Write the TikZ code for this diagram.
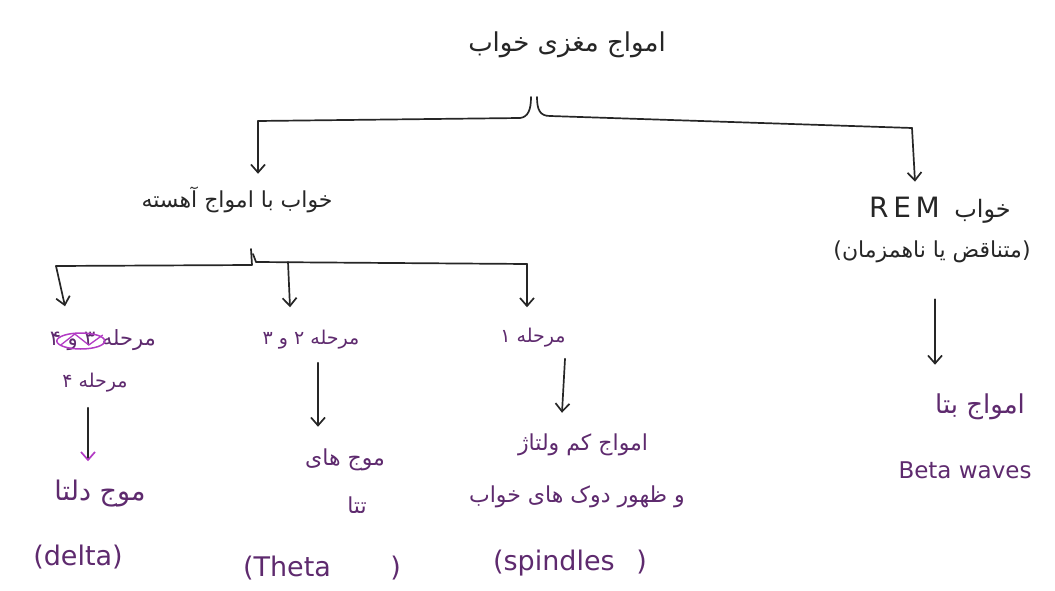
\documentclass[tikz,border=0pt]{standalone}
\usepackage{fontspec}
\setmainfont{DejaVu Sans}
\newfontfamily\fa[Script=Arabic]{DejaVu Sans}
\newfontfamily\la{DejaVu Sans}
\TeXXeTstate=1
\usetikzlibrary{arrows.meta,calc}
\definecolor{ink}{HTML}{262626}
\definecolor{purp}{HTML}{5E2A6E}
\definecolor{mag}{HTML}{B23BC4}
\begin{document}
\begin{tikzpicture}[x=1pt,y=-1pt,
  blk/.style={text=ink, inner sep=1pt},
  prp/.style={text=purp, inner sep=1pt},
  big/.style={font=\fa\fontsize{26}{30}\selectfont},
  mid/.style={font=\fa\fontsize{22}{26}\selectfont},
  sml/.style={font=\fa\fontsize{19}{23}\selectfont},
  lat/.style={font=\la\fontsize{27}{30}\selectfont},
  latb/.style={font=\la\fontsize{23}{26}\selectfont},
  bar/.style={draw=ink, line width=1.7pt, line cap=round, line join=round},
  arr/.style={bar, -{Straight Barb[length=8pt,width=14pt]}},
  parr/.style={bar, -{Straight Barb[length=8pt,width=14pt,color=mag]}},
]
\useasboundingbox (0,0) rectangle (1055,591);
% nodes
\node[blk,big] (top) at (567,45) {\beginR امواج مغزی خواب\endR};
\node[blk,mid] (slow) at (237,200) {\beginR خواب با امواج آهسته\endR};
\node[blk,font=\fa\fontsize{24}{28}\selectfont] (rem1) at (940,210) {\beginR خواب\hspace{0.6em}\beginL{\la\fontsize{28}{30}\selectfont R\,E\,M}\endL\endR};
\node[blk,mid] (rem2) at (932,252) {{\la(}\beginR متناقض یا ناهمزمان\endR{\la)}};
\node[prp,font=\fa\fontsize{21}{24}\selectfont] (s34) at (103,340) {\beginR مرحله ۳\hspace{0.3em}و\hspace{0.3em}۴\endR};
\node[prp,sml] (s4) at (95,383) {\beginR مرحله ۴\endR};
\node[prp,sml] (s23) at (311,340) {\beginR مرحله ۲ و ۳\endR};
\node[prp,sml] (s1) at (533,338) {\beginR مرحله ۱\endR};
\node[prp,font=\fa\fontsize{27}{30}\selectfont] (d1) at (100,494) {\beginR موج دلتا\endR};
\node[prp,lat] (d2) at (78,557) {(delta)};
\node[prp,mid] (t1) at (345,460) {\beginR موج های\endR};
\node[prp,mid] (t2) at (357,505) {\beginR تتا\endR};
\node[prp,lat] (t3) at (322,568) {(Theta\hspace{2.2em})};
\node[prp,mid] (p1) at (583,445) {\beginR امواج کم ولتاژ\endR};
\node[prp,mid] (p2) at (577,497) {\beginR و ظهور دوک های خواب\endR};
\node[prp,lat] (p3) at (570,563) {(spindles\hspace{0.8em})};
\node[prp,font=\fa\fontsize{26}{30}\selectfont] (b1) at (980,407) {\beginR امواج بتا\endR};
\node[prp,latb] (b2) at (965,470) {Beta waves};
% top bracket
\coordinate (tl) at (258,121);
\coordinate (tr) at (912,128);
\coordinate (tn) at (534,97);
\draw[bar] (tl) -- (520,118) .. controls (528,117) and (531,110) .. ($(tn)+(-3,0)$);
\draw[bar] ($(tn)+(3,0)$) .. controls (537,110) and (540,116) .. (550,116) -- (tr);
\draw[arr] (tl) -- ($(tl |- slow.north)+(0,-12)$);
\draw[arr] (tr) -- ($(tr |- rem1.north)+(3,-14)$);
% second bracket
\coordinate (sl) at (56,266);
\coordinate (sr) at (527,264);
\coordinate (sm) at (288,262);
\coordinate (sn) at (251,249);
\draw[bar] (sl) -- (252,265) -- (sn);
\draw[bar] ($(sn)+(2,5)$) -- (256,262) -- (sr);
\draw[arr] (sl) -- ($(sl |- s34.north)+(9,-22)$);
\draw[arr] (sm) -- ($(sm |- s23.north)+(2,-22)$);
\draw[arr] (sr) -- ($(sr |- s1.north)+(0,-20)$);
% REM arrow
\draw[arr] ($(rem2.south)+(3,35)$) -- ($(b1.north)+(-45,-28)$);
% crossed-out part
\draw[mag, line width=1.5pt] ($(s34.west)+(32,1)$) ellipse [x radius=24, y radius=8];
\draw[mag, line width=1.3pt] ($(s34.west)+(12,5)$) -- ($(s34.west)+(26,-6)$) -- ($(s34.west)+(40,5)$) -- ($(s34.west)+(54,-5)$);
% level-3 arrows
\draw[parr] ([xshift=-7pt]s4.south) ++(0,14) -- ([xshift=-12pt,yshift=18pt]d1.north);
\draw[arr] ([xshift=7pt]s23.south) ++(0,12) -- ([xshift=-27pt,yshift=21pt]t1.north);
\draw[arr] ([xshift=32pt]s1.south) ++(0,10) -- ([xshift=-21pt,yshift=20pt]p1.north);
\end{tikzpicture}
\end{document}
